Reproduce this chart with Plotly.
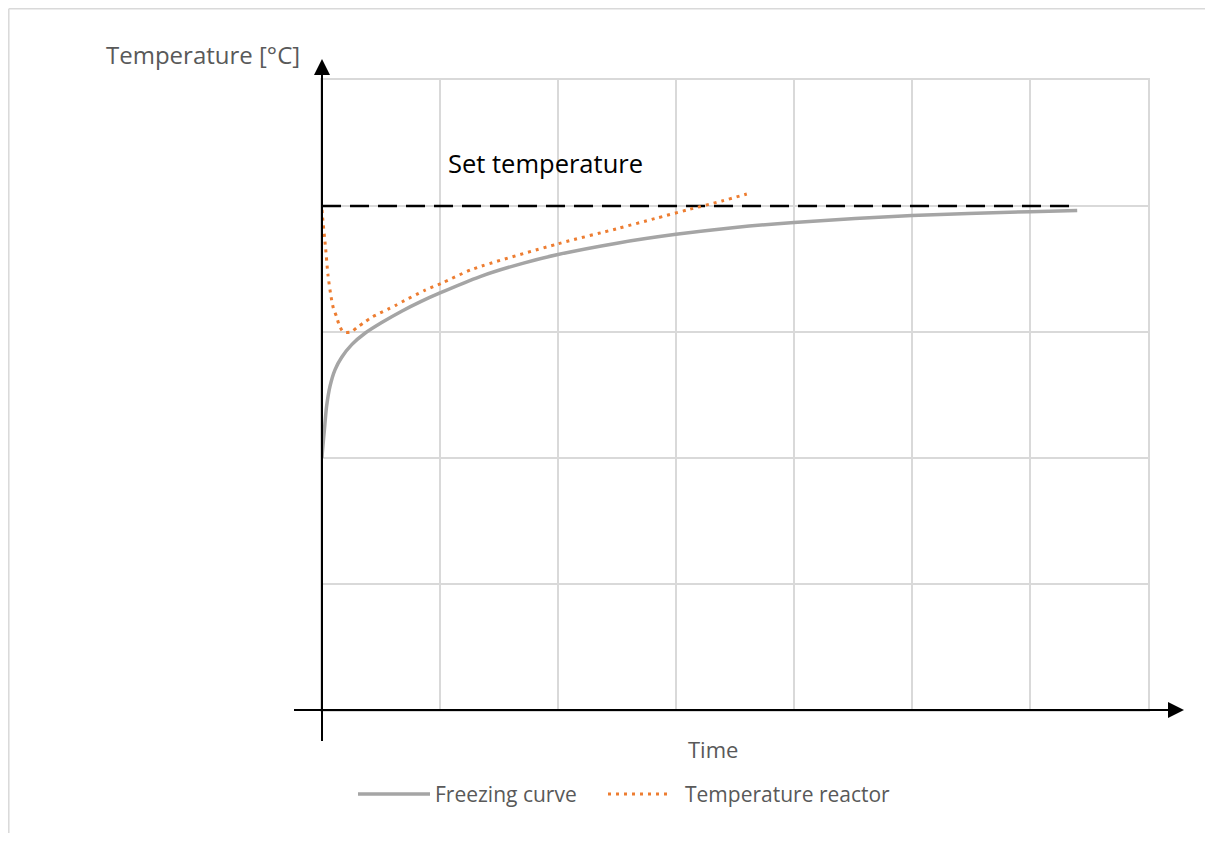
import plotly.graph_objects as go

# ---- data (arbitrary units) ----
freeze_x = [0, 0.0025, 0.02, 0.039, 0.068, 0.11, 0.167, 0.252, 0.364, 0.506, 0.675, 0.845, 1.0, 1.34, 1.7, 2.0, 2.5, 3.0, 3.5, 4.0, 5.0, 6.0, 6.4]
freeze_y = [2.0, 2.04, 2.22, 2.41, 2.57, 2.70, 2.80, 2.90, 2.99, 3.075, 3.165, 3.245, 3.31, 3.44, 3.545, 3.615, 3.705, 3.775, 3.83, 3.87, 3.925, 3.955, 3.965]

reactor_x = [0, 0.003, 0.031, 0.051, 0.075, 0.096, 0.124, 0.144, 0.181, 0.246, 0.302, 0.364, 0.426, 0.49, 0.556, 0.62, 0.68, 0.87, 1.02, 1.28, 2.0, 2.5, 2.82, 3.1, 3.39, 3.6]
reactor_y = [3.97, 3.93, 3.66, 3.45, 3.29, 3.19, 3.12, 3.06, 3.00, 3.00, 3.04, 3.08, 3.12, 3.15, 3.18, 3.21, 3.24, 3.33, 3.39, 3.50, 3.70, 3.82, 3.90, 3.97, 4.04, 4.095]

set_x = [0, 6.38]
set_y = [4, 4]

series_names = ["Freezing curve", "Temperature reactor"]
x_title = "Time"
y_title = "Temperature [°C]"
set_label = "Set temperature"

GRAY = "#A5A5A5"
ORANGE = "#ED7D31"
FONT = "Open Sans"

SCREEN_W, SCREEN_H = 1213, 841
OFF = 8  # page body margin
W, H = SCREEN_W - 2 * OFF, SCREEN_H - 2 * OFF
L, R, T, B = 322, 1148, 80, 710  # plot area in screen pixels


def px(x):
    return (x - L) / (R - L)


def py(y):
    return (B - y) / (B - T)


fig = go.Figure()
fig.add_trace(go.Scatter(x=set_x, y=set_y, mode="lines",
                         line=dict(color="black", width=2.5, dash="19px,9px"),
                         showlegend=False, hoverinfo="skip"))
fig.add_trace(go.Scatter(x=freeze_x, y=freeze_y, mode="lines", name=series_names[0],
                         line=dict(color=GRAY, width=3.5, shape="spline", smoothing=0.7),
                         showlegend=False))
fig.add_trace(go.Scatter(x=reactor_x, y=reactor_y, mode="lines", name=series_names[1],
                         line=dict(color=ORANGE, width=3, dash="3px,5px", shape="spline", smoothing=0.7),
                         showlegend=False))

shapes = []
# outer border (left & top)
shapes.append(dict(type="line", xref="paper", yref="paper", x0=px(8.8), x1=px(8.8), y0=py(8.8), y1=py(SCREEN_H + 5),
                   line=dict(color="#D9D9D9", width=1.5)))
shapes.append(dict(type="line", xref="paper", yref="paper", x0=px(8.8), x1=px(SCREEN_W + 5), y0=py(8.8), y1=py(8.8),
                   line=dict(color="#D9D9D9", width=1.5)))
# y axis with arrow
shapes.append(dict(type="line", xref="paper", yref="paper", x0=0, x1=0, y0=py(741), y1=py(72),
                   line=dict(color="black", width=2)))
shapes.append(dict(type="path", xref="paper", yref="paper",
                   path=f"M {px(314)} {py(75)} L {px(322)} {py(59)} L {px(330)} {py(75)} Z",
                   fillcolor="black", line=dict(color="black", width=0)))
# x axis with arrow
shapes.append(dict(type="line", xref="paper", yref="paper", x0=px(294), x1=px(1170), y0=0, y1=0,
                   line=dict(color="black", width=2)))
shapes.append(dict(type="path", xref="paper", yref="paper",
                   path=f"M {px(1168)} {py(702)} L {px(1184)} {py(710)} L {px(1168)} {py(718)} Z",
                   fillcolor="black", line=dict(color="black", width=0)))
# manual legend samples
shapes.append(dict(type="line", xref="paper", yref="paper", x0=px(358), x1=px(430), y0=py(794), y1=py(794),
                   line=dict(color=GRAY, width=3.5)))
shapes.append(dict(type="line", xref="paper", yref="paper", x0=px(608), x1=px(672), y0=py(794), y1=py(794),
                   line=dict(color=ORANGE, width=3, dash="3px,5px")))

annotations = [
    dict(text=y_title, xref="paper", yref="paper", x=px(203), y=py(55), showarrow=False,
         font=dict(family=FONT, size=24, color="#595959"), xanchor="center", yanchor="middle"),
    dict(text=x_title, xref="paper", yref="paper", x=px(713), y=py(749), showarrow=False,
         font=dict(family=FONT, size=22, color="#595959"), xanchor="center", yanchor="middle"),
    dict(text=set_label, xref="x", yref="y", x=(545 - L) / 118, y=(B - 163) / 126, showarrow=False,
         font=dict(family=FONT, size=25.5, color="black"), xanchor="center", yanchor="middle"),
    dict(text=series_names[0], xref="paper", yref="paper", x=px(433), y=py(794), showarrow=False,
         font=dict(family=FONT, size=21, color="#595959"), xanchor="left", yanchor="middle"),
    dict(text=series_names[1], xref="paper", yref="paper", x=px(683), y=py(794), showarrow=False,
         font=dict(family=FONT, size=21, color="#595959"), xanchor="left", yanchor="middle"),
]

fig.update_layout(
    width=W, height=H,
    margin=dict(l=L - OFF, r=(OFF + W) - R, t=T - OFF, b=(OFF + H) - B, pad=0),
    paper_bgcolor="white", plot_bgcolor="white",
    font=dict(family=FONT),
    shapes=shapes, annotations=annotations,
    showlegend=False,
    xaxis=dict(range=[0, 7], dtick=1, tick0=0, showgrid=True, gridcolor="#D9D9D9", gridwidth=1.5,
               showticklabels=False, ticks="", zeroline=False, showline=True, mirror=True,
               linecolor="#D9D9D9", linewidth=1.5, fixedrange=True),
    yaxis=dict(range=[0, 5], dtick=1, tick0=0, showgrid=True, gridcolor="#D9D9D9", gridwidth=1.5,
               showticklabels=False, ticks="", zeroline=False, showline=True, mirror=True,
               linecolor="#D9D9D9", linewidth=1.5, fixedrange=True),
)

fig.write_html("out.html", config={"displayModeBar": False})
